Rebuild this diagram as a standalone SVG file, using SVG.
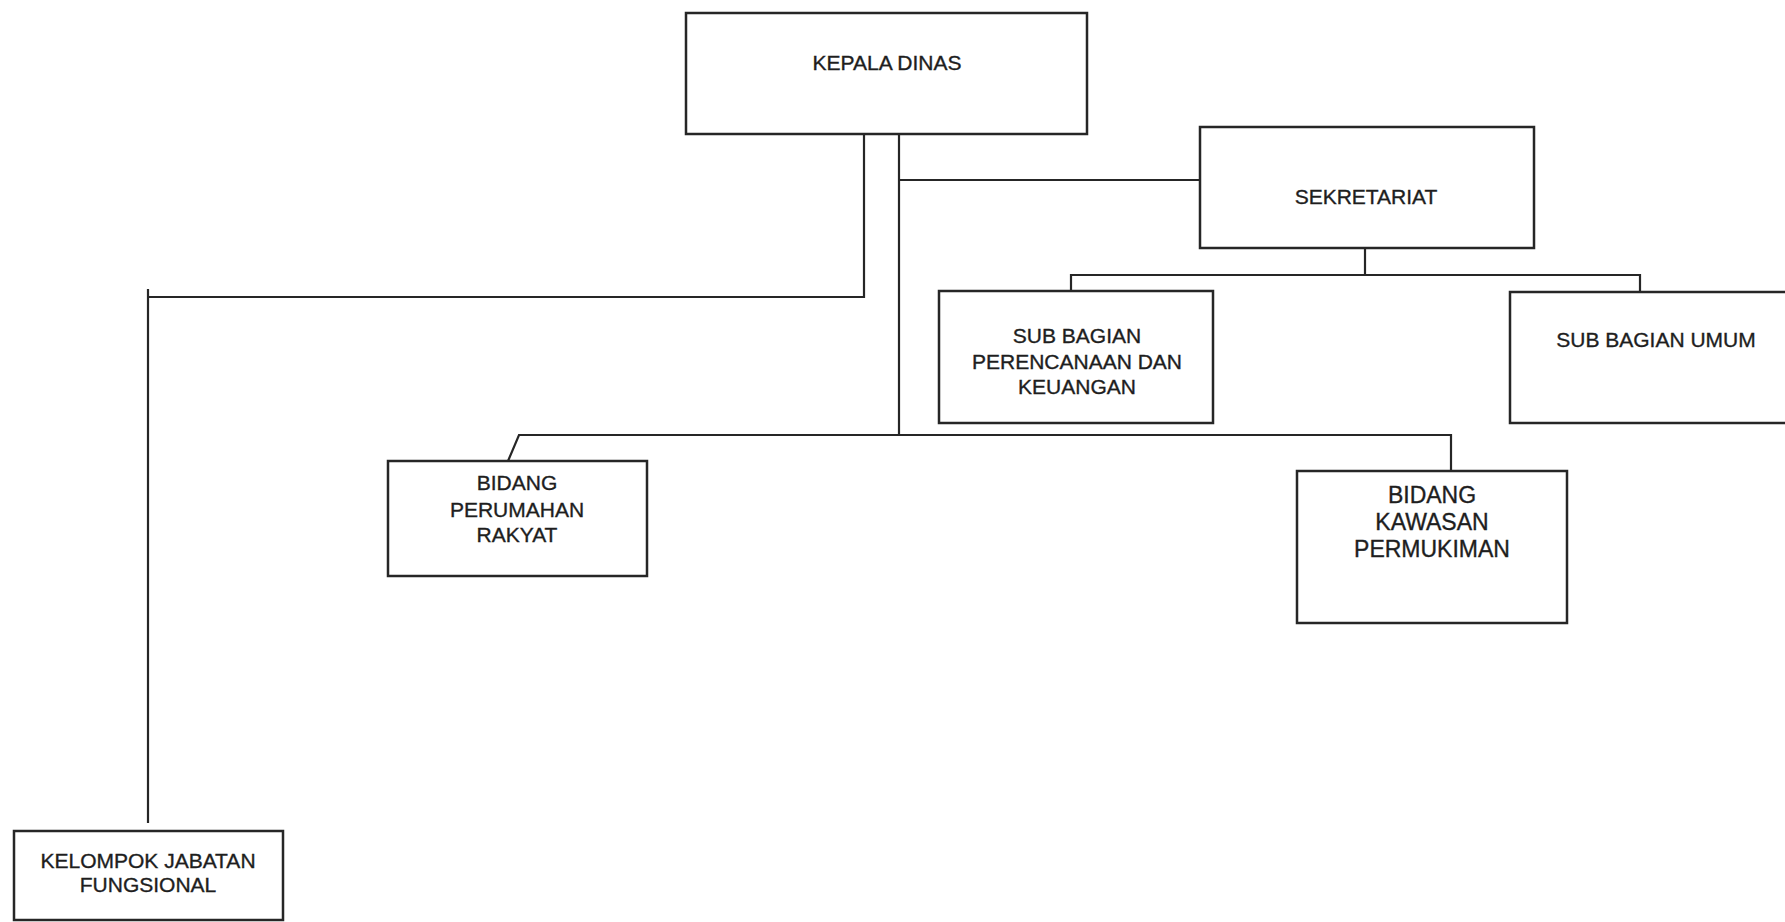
<svg xmlns="http://www.w3.org/2000/svg" width="1785" height="922" viewBox="0 0 1785 922">
<style>
.box{fill:#fff;stroke:#262626;stroke-width:2.5}
.lbl{font-family:"Liberation Sans",Arial,sans-serif;font-size:21px;fill:#1e1e1e;stroke:#1e1e1e;stroke-width:0.35;text-anchor:middle}
.big{font-size:23px}
.conn{fill:none;stroke:#262626;stroke-width:2.2}
</style>
<rect width="1785" height="922" fill="#fff"/>
<g id="connectors">
<path class="conn" d="M864,134 V297 H148 M148,289 V823"/>
<path class="conn" d="M899,134 V435 M899,180 H1200"/>
<path class="conn" d="M1365,248 V275 M1071,291 V275 H1640 V292"/>
<path class="conn" d="M508,461 L519,435 H1451 V471"/>
</g>
<g id="kepala-dinas">
<rect class="box" x="686" y="13" width="401" height="121"/>
<text class="lbl" x="887" y="70">KEPALA DINAS</text>
</g>
<g id="sekretariat">
<rect class="box" x="1200" y="127" width="334" height="121"/>
<text class="lbl" x="1366" y="204">SEKRETARIAT</text>
</g>
<g id="sub-bagian-perencanaan">
<rect class="box" x="939" y="291" width="274" height="132"/>
<text class="lbl" x="1077" y="343">SUB BAGIAN</text>
<text class="lbl" x="1077" y="369">PERENCANAAN DAN</text>
<text class="lbl" x="1077" y="394">KEUANGAN</text>
</g>
<g id="sub-bagian-umum">
<rect class="box" x="1510" y="292" width="290" height="131"/>
<text class="lbl" x="1656" y="347">SUB BAGIAN UMUM</text>
</g>
<g id="bidang-perumahan-rakyat">
<rect class="box" x="388" y="461" width="259" height="115"/>
<text class="lbl" x="517" y="490">BIDANG</text>
<text class="lbl" x="517" y="517">PERUMAHAN</text>
<text class="lbl" x="517" y="542">RAKYAT</text>
</g>
<g id="bidang-kawasan-permukiman">
<rect class="box" x="1297" y="471" width="270" height="152"/>
<text class="lbl big" x="1432" y="503">BIDANG</text>
<text class="lbl big" x="1432" y="530">KAWASAN</text>
<text class="lbl big" x="1432" y="557">PERMUKIMAN</text>
</g>
<g id="kelompok-jabatan-fungsional">
<rect class="box" x="14" y="831" width="269" height="89"/>
<text class="lbl" x="148" y="868">KELOMPOK JABATAN</text>
<text class="lbl" x="148" y="892">FUNGSIONAL</text>
</g>
</svg>
